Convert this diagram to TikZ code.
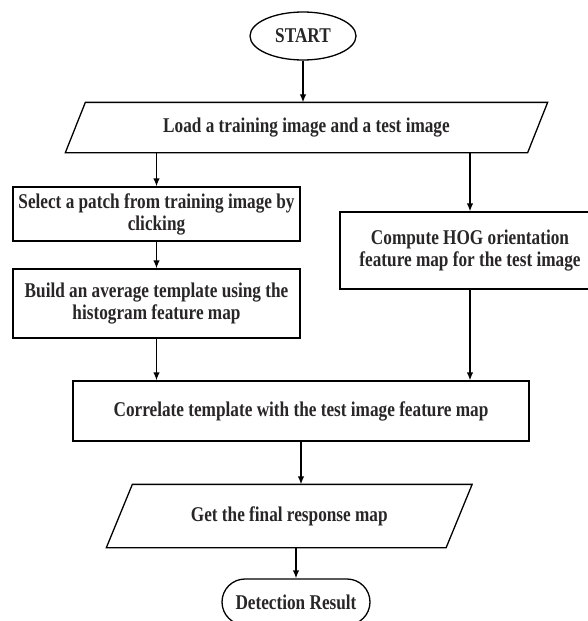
\documentclass[tikz,border=0pt]{standalone}
\usepackage{fontspec}
\setmainfont{Liberation Serif}[FakeStretch=0.82]
\usetikzlibrary{shapes.geometric,arrows.meta}
\definecolor{txt}{RGB}{40,38,38}

\begin{document}
\begin{tikzpicture}[x=1pt,y=-1pt,line width=1.3pt,
    >={Latex[length=8pt,width=6.5pt]},
    every node/.style={font=\bfseries\fontsize{21}{22}\selectfont,text=txt,align=center,inner sep=0pt},
    box/.style={draw,rectangle},
    io/.style={rectangle}]
    \useasboundingbox (0,0) rectangle (587,621);

    \node[draw,ellipse,minimum width=106pt,minimum height=48pt] (start) at (303,36) {START};
    \node[io,minimum width=461pt,minimum height=49pt] (load) at (306.5,127.5) {Load a training image and a test image};
    \node[box,minimum width=287pt,minimum height=54pt] (select) at (156.5,214) {Select a patch from training image by\\clicking};
    \node[box,minimum width=287pt,minimum height=69pt] (build) at (156.5,303.5) {Build an average template using the\\histogram feature map};
    \node[box,minimum width=260pt,minimum height=77pt] (compute) at (470,250.5) {Compute HOG orientation\\feature map for the test image};
    \node[box,minimum width=456pt,minimum height=60pt] (corr) at (301,411) {Correlate template with the test image feature map};
    \node[io,minimum width=338.5pt,minimum height=62pt] (final) at (289.25,516) {Get the final response map};
    \node[draw,rectangle,rounded corners=23pt,minimum width=148pt,minimum height=46pt] (result) at (296,602) {Detection Result};

    \foreach \n/\s in {load/10, final/13} {
      \draw ([xshift=\s pt]\n.north west) -- ([xshift=\s pt]\n.north east)
        -- ([xshift=-\s pt]\n.south east) -- ([xshift=-\s pt]\n.south west) -- cycle;
    }

    \draw[->] (start) -- (start |- load.north);
    \draw[->] (select.north |- load.south) -- (select);
    \draw[->] (compute.north |- load.south) -- (compute);
    \draw[->] (select) -- (build);
    \draw[->] (build) -- (build.south |- corr.north);
    \draw[->] (compute) -- (compute.south |- corr.north);
    \draw[->] (corr) -- (corr.south |- final.north);
    \draw[->] (result.north |- final.south) -- (result);
  \end{tikzpicture}
\end{document}
